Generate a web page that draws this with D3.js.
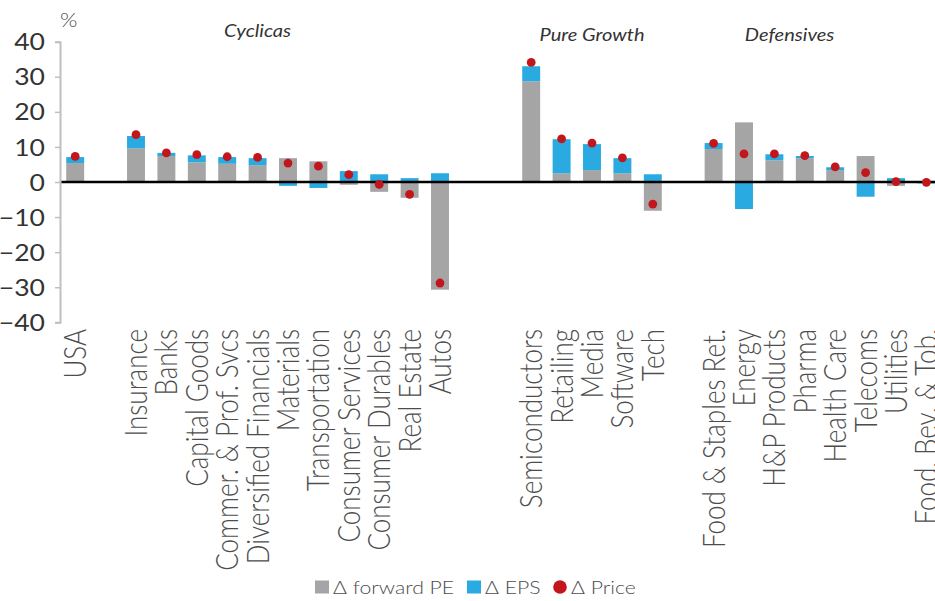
<!DOCTYPE html>
<html>
<head>
<meta charset="utf-8">
<script src="https://cdn.jsdelivr.net/npm/d3@7"></script>
<style>
  html, body { margin: 0; padding: 0; background: #fff; }
  svg { display: block; font-family: Lato, "Open Sans", sans-serif; }
  .light { font-family: "Lato Light", Lato, sans-serif; font-weight: 300; }
</style>
</head>
<body>
<svg id="chart" width="935" height="601"></svg>
<script>
// Sector categories; null entries are empty slots separating the groups
const categories = [
  "USA", null,
  "Insurance", "Banks", "Capital Goods", "Commer. & Prof. Svcs", "Diversified Financials",
  "Materials", "Transportation", "Consumer Services", "Consumer Durables", "Real Estate", "Autos",
  null, null,
  "Semiconductors", "Retailing", "Media", "Software", "Tech",
  null,
  "Food & Staples Ret.", "Energy", "H&P Products", "Pharma", "Health Care", "Telecoms",
  "Utilities", "Food, Bev. & Tob."
];

// Δ forward PE (%)
const forwardPE = [
  5.4, null,
  9.6, 7.4, 5.6, 5.2, 4.8, 6.8, 5.9, -0.8, -2.8, -4.5, -30.7,
  null, null,
  28.7, 2.5, 3.4, 2.5, -8.2,
  null,
  9.4, 17.0, 6.2, 6.8, 3.4, 7.4, -1.1, 0.2
];

// Δ EPS (%)
const eps = [
  1.7, null,
  3.5, 0.9, 2.0, 1.9, 2.0, -1.1, -1.7, 3.1, 2.2, 1.1, 2.5,
  null, null,
  4.3, 9.7, 7.4, 4.3, 2.2,
  null,
  1.7, -7.7, 1.7, 0.6, 0.8, -4.2, 1.1, -0.4
];

// Δ Price (%)
const price = [
  7.3, null,
  13.5, 8.3, 7.8, 7.2, 7.0, 5.4, 4.5, 2.1, -0.7, -3.5, -28.8,
  null, null,
  34.1, 12.3, 11.1, 6.9, -6.3,
  null,
  11.0, 8.0, 8.0, 7.5, 4.3, 2.7, 0.1, -0.1
];

const yTicks = [-40, -30, -20, -10, 0, 10, 20, 30, 40];

// Group titles, centred between the two named categories
const groupTitles = [
  { label: "Cyclicas", a: "Diversified Financials", b: "Diversified Financials", base: 37 },
  { label: "Pure Growth", a: "Media", b: "Media", base: 41 },
  { label: "Defensives", a: "H&P Products", b: "Pharma", base: 41 }
];

const legendItems = [
  { key: "pe", label: "\u0394 forward PE" },
  { key: "eps", label: "\u0394 EPS" },
  { key: "price", label: "\u0394 Price" }
];

const colors = { pe: "#a5a5a5", eps: "#29abe2", price: "#c3161c" };
const textColor = "#4d4d4d";
const stretch = 1.18;   // horizontal text stretch

const svg = d3.select("#chart");

// Rows with a slot key so empty slots keep their place on the band scale
const rows = categories.map((c, i) => ({
  slot: "s" + i, name: c, pe: forwardPE[i], eps: eps[i], price: price[i]
}));
const real = rows.filter(d => d.name !== null);

const x = d3.scaleBand()
  .domain(rows.map(d => d.slot))
  .range([60, 60 + 29 * 30.4])
  .paddingInner(0.41)
  .paddingOuter(0.205);

const y = d3.scaleLinear().domain([-40, 40]).range([322.3, 41.7]);

const cx = d => x(d.slot) + x.bandwidth() / 2;

// Diverging stack: positive parts go up from zero, negative parts go down
const stack = d3.stack()
  .keys(["pe", "eps"])
  .offset(d3.stackOffsetDiverging);
const series = stack(real);

svg.append("g")
  .selectAll("g")
  .data(series)
  .join("g")
  .attr("fill", s => colors[s.key])
  .selectAll("rect")
  .data(s => s)
  .join("rect")
  .attr("x", d => x(d.data.slot))
  .attr("width", x.bandwidth())
  .attr("y", d => y(Math.max(d[0], d[1])))
  .attr("height", d => Math.abs(y(d[0]) - y(d[1])));

// Zero line
svg.append("line")
  .attr("x1", 60).attr("x2", 935)
  .attr("y1", y(0)).attr("y2", y(0))
  .attr("stroke", "#000").attr("stroke-width", 2.5);

// Price markers
svg.append("g")
  .selectAll("circle")
  .data(real)
  .join("circle")
  .attr("cx", cx)
  .attr("cy", d => y(d.price))
  .attr("r", 4.4)
  .attr("fill", colors.price);

// Y axis
const yAxis = d3.axisLeft(y).tickValues(yTicks).tickSize(5).tickPadding(0).tickFormat(d3.format("d"));
const ya = svg.append("g").attr("transform", "translate(60,0)").call(yAxis);
ya.select(".domain").attr("stroke", "#bfbfbf").attr("stroke-width", 2);
ya.selectAll(".tick line").attr("stroke", "#bfbfbf").attr("stroke-width", 1.5);
ya.selectAll(".tick text")
  .attr("x", null)
  .attr("transform", `translate(-15,0) scale(${stretch},1)`)
  .attr("dy", "0.36em")
  .attr("fill", "#333")
  .style("font-size", "22.5px")
  .style("font-family", "Lato, sans-serif")
  .style("font-weight", 400);

// Unit label
svg.append("text")
  .attr("class", "light")
  .attr("transform", `translate(60,27) scale(${stretch},1)`)
  .attr("fill", textColor)
  .style("font-size", "19px")
  .text("%");

// Category labels (rotated)
svg.append("g")
  .selectAll("text")
  .data(real)
  .join("text")
  .attr("class", "light")
  .attr("transform", d => `translate(${cx(d)},329) scale(${stretch},1) rotate(-90)`)
  .attr("text-anchor", "end")
  .attr("dy", "0.36em")
  .attr("fill", textColor)
  .style("font-size", "26px")
  .text(d => d.name);

// Group titles
const byName = name => rows.find(r => r.name === name);
svg.append("g")
  .selectAll("text")
  .data(groupTitles)
  .join("text")
  .attr("transform", g => `translate(${(cx(byName(g.a)) + cx(byName(g.b))) / 2},${g.base}) scale(${stretch},1)`)
  .attr("text-anchor", "middle")
  .attr("fill", "#333")
  .style("font-size", "17px")
  .style("font-style", "italic")
  .style("font-weight", 400)
  .text(g => g.label);

// Legend
const legendX = [315, 467, 553];
const lg = svg.append("g").selectAll("g").data(legendItems).join("g")
  .attr("transform", (d, i) => `translate(${legendX[i]},587)`);
lg.filter(d => d.key !== "price").append("rect")
  .attr("x", 0).attr("y", -6.5).attr("width", 14).attr("height", 13)
  .attr("fill", d => colors[d.key]);
lg.filter(d => d.key === "price").append("circle")
  .attr("cx", 7).attr("cy", 0).attr("r", 6.8)
  .attr("fill", colors.price);
lg.append("text")
  .attr("class", "light")
  .attr("transform", `translate(18,7) scale(${stretch},1)`)
  .attr("fill", textColor)
  .style("font-size", "18px")
  .text(d => d.label);
</script>
</body>
</html>
